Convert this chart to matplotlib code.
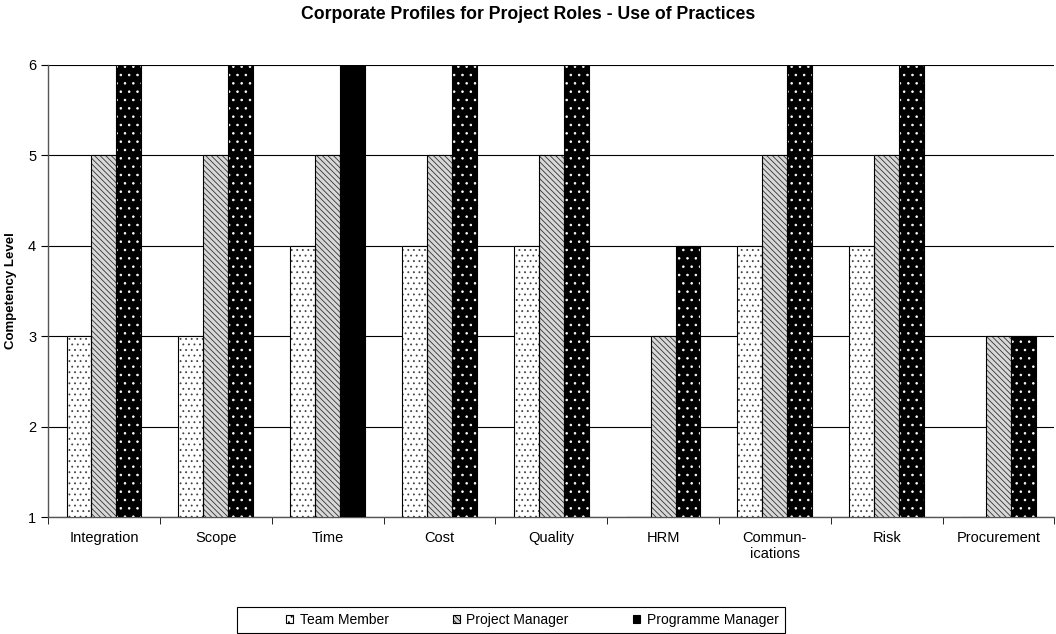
import matplotlib.pyplot as plt
from matplotlib.patches import Rectangle
import numpy as np

plt.rcParams['font.family'] = ['Liberation Sans', 'DejaVu Sans']
plt.rcParams['hatch.linewidth'] = 0.6

categories = ['Integration', 'Scope', 'Time', 'Cost', 'Quality', 'HRM',
              'Commun-\nications', 'Risk', 'Procurement']
team_member = [3, 3, 4, 4, 4, 1, 4, 4, 1]
project_manager = [5, 5, 5, 5, 5, 3, 5, 5, 3]
programme_manager = [6, 6, 6, 6, 6, 4, 6, 6, 3]
series_names = ['Team Member', 'Project Manager', 'Programme Manager']

base = 1
fig = plt.figure(figsize=(10.56, 6.34), dpi=100)
ax = fig.add_axes([0.0455, 0.1845, 0.953, 0.713])

x = np.arange(len(categories))
w = 0.223
styles = [
    # face, hatch, hatch colour
    ('white', '...', '#444444'),
    ('#d8d8d8', '\\\\\\\\\\\\', '#333333'),
    ('black', '..', 'white'),
]
handles = []
fills = []
for i, vals in enumerate([team_member, project_manager, programme_manager]):
    face, hatch, hcol = styles[i]
    pos = x + (i - 1) * w
    heights = np.array(vals) - base
    # hatched fill, then black outline on top
    fills.append(ax.bar(pos, heights, w, bottom=base, color=face, hatch=hatch,
                        edgecolor=hcol, linewidth=0, zorder=3))
    ax.bar(pos, heights, w, bottom=base, fill=False,
           edgecolor='black', linewidth=0.8, zorder=4)
    handles.append(ax.bar([0], [0], 0, color=face, hatch=hatch,
                          edgecolor=hcol, linewidth=0))

# the Time bar for programme manager prints solid black in the original
fills[2][2].set_hatch(None)

ax.set_xlim(-0.5, len(categories) - 0.5)
ax.set_ylim(1, 6)
ax.set_yticks([1, 2, 3, 4, 5, 6])
ax.yaxis.grid(True, color='black', linewidth=0.8, zorder=0)
ax.set_axisbelow(True)
ax.set_xticks(x)
ax.set_xticklabels(categories, fontsize=10.5)
ax.set_xticks(np.arange(len(categories) + 1) - 0.5, minor=True)
ax.tick_params(axis='x', which='major', length=0, pad=10)
ax.tick_params(axis='x', which='minor', length=5, direction='out')
ax.tick_params(axis='y', labelsize=10.5, length=5, direction='out')
for s in ['top', 'right']:
    ax.spines[s].set_visible(False)
for s in ['left', 'bottom']:
    ax.spines[s].set_color('#555555')
    ax.spines[s].set_linewidth(1)

ax.set_ylabel('Competency Level', fontsize=9.5, fontweight='bold', labelpad=8)
fig.suptitle('Corporate Profiles for Project Roles - Use of Practices',
             fontsize=12.7, fontweight='bold', y=0.99)

# legend frame drawn separately so it can be wider than the entries
fig.patches.append(Rectangle((0.2244, 0.0016), 0.519, 0.041,
                             transform=fig.transFigure, fill=False,
                             edgecolor='black', linewidth=0.8))
leg = fig.legend([handles[0][0], handles[1][0], handles[2][0]], series_names,
                 loc='center left', bbox_to_anchor=(0.264, 0.0225), ncol=3,
                 fontsize=10, frameon=False, borderpad=0,
                 handlelength=0.55, handleheight=0.55, handletextpad=0.45,
                 columnspacing=4.6)
for p in leg.get_patches():
    p.set_linewidth(0.8)
    p.set_edgecolor('black')

fig.savefig('out.png', dpi=100)
